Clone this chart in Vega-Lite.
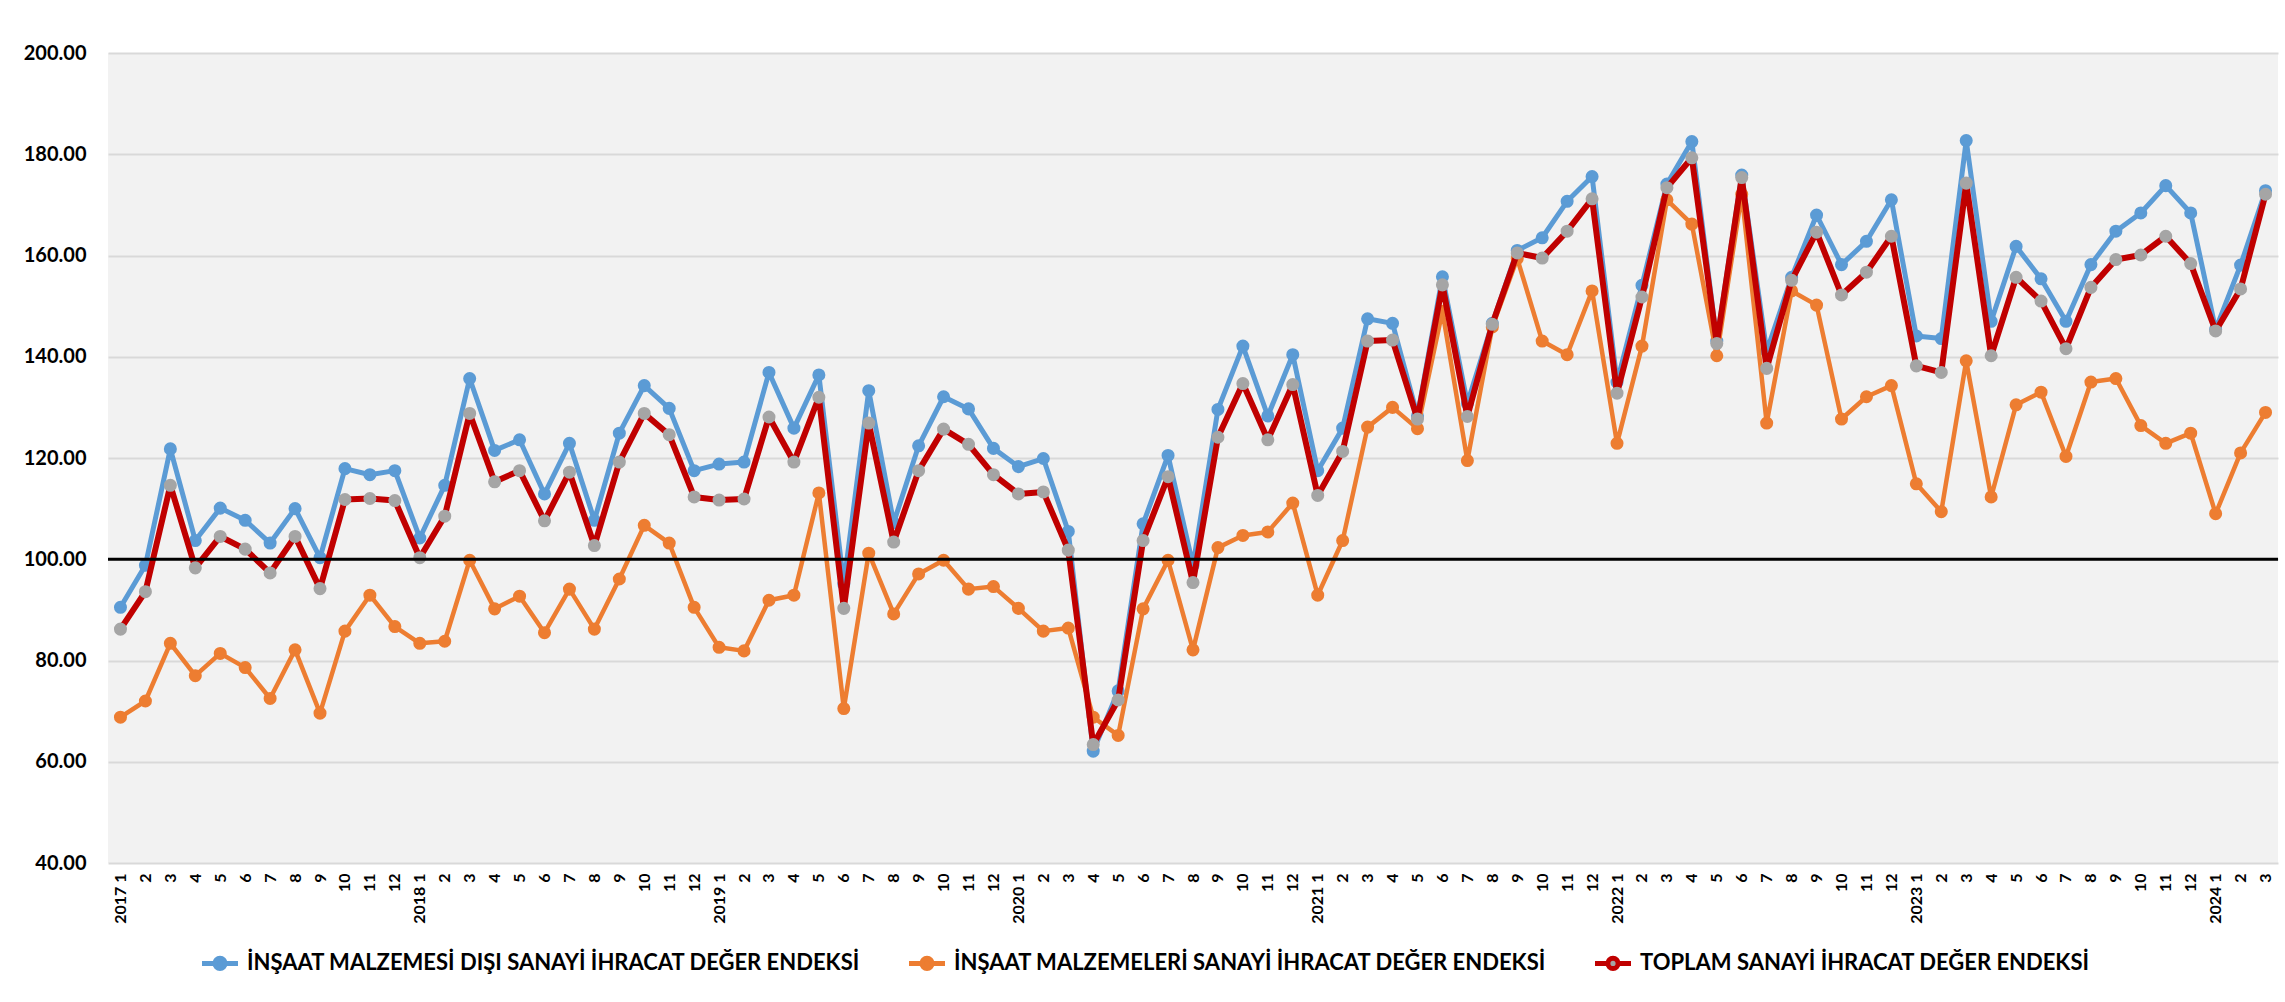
{
  "$schema": "https://vega.github.io/schema/vega-lite/v6.json",
  "width": 2170,
  "height": 810,
  "autosize": {"type": "none"},
  "padding": {"left": 108, "top": 53, "right": 7, "bottom": 139},
  "background": "white",
  "config": {
    "view": {"fill": "#f2f2f2", "stroke": null},
    "font": "Lato",
    "axisX": {"title": null, "labelAngle": 270, "labelFontSize": 16, "labelFontWeight": "bold", "labelColor": "black", "ticks": false, "domain": false, "grid": false, "labelPadding": 10, "labelOverlap": false},
    "axisY": {"title": null, "format": ".2f", "labelFontSize": 20, "labelFontWeight": "bold", "labelColor": "black", "labelPadding": 22, "ticks": false, "domain": false, "grid": true, "gridColor": "#d9d9d9", "gridWidth": 2}
  },
  "datasets": {
    "endeks": [
      {"d": "2017-01", "a": 90.5, "b": 68.8, "t": 86.2},
      {"d": "2017-02", "a": 98.8, "b": 72.0, "t": 93.6},
      {"d": "2017-03", "a": 121.8, "b": 83.4, "t": 114.6},
      {"d": "2017-04", "a": 103.7, "b": 77.0, "t": 98.3},
      {"d": "2017-05", "a": 110.1, "b": 81.4, "t": 104.5},
      {"d": "2017-06", "a": 107.7, "b": 78.6, "t": 102.0},
      {"d": "2017-07", "a": 103.2, "b": 72.5, "t": 97.3},
      {"d": "2017-08", "a": 110.0, "b": 82.1, "t": 104.5},
      {"d": "2017-09", "a": 100.3, "b": 69.6, "t": 94.2},
      {"d": "2017-10", "a": 117.9, "b": 85.8, "t": 111.8},
      {"d": "2017-11", "a": 116.7, "b": 92.9, "t": 112.0},
      {"d": "2017-12", "a": 117.5, "b": 86.7, "t": 111.6},
      {"d": "2018-01", "a": 104.2, "b": 83.4, "t": 100.3},
      {"d": "2018-02", "a": 114.6, "b": 83.8, "t": 108.5},
      {"d": "2018-03", "a": 135.7, "b": 99.8, "t": 128.8},
      {"d": "2018-04", "a": 121.5, "b": 90.2, "t": 115.3},
      {"d": "2018-05", "a": 123.6, "b": 92.7, "t": 117.5},
      {"d": "2018-06", "a": 112.9, "b": 85.5, "t": 107.6},
      {"d": "2018-07", "a": 122.9, "b": 94.1, "t": 117.2},
      {"d": "2018-08", "a": 107.7, "b": 86.2, "t": 102.7},
      {"d": "2018-09", "a": 124.9, "b": 96.1, "t": 119.2},
      {"d": "2018-10", "a": 134.3, "b": 106.7, "t": 128.8},
      {"d": "2018-11", "a": 129.8, "b": 103.2, "t": 124.6},
      {"d": "2018-12", "a": 117.5, "b": 90.5, "t": 112.3},
      {"d": "2019-01", "a": 118.8, "b": 82.6, "t": 111.7},
      {"d": "2019-02", "a": 119.2, "b": 81.9, "t": 111.9},
      {"d": "2019-03", "a": 136.9, "b": 91.9, "t": 128.1},
      {"d": "2019-04", "a": 125.9, "b": 92.9, "t": 119.2},
      {"d": "2019-05", "a": 136.4, "b": 113.1, "t": 132.0},
      {"d": "2019-06", "a": 95.1, "b": 70.5, "t": 90.3},
      {"d": "2019-07", "a": 133.3, "b": 101.2, "t": 126.9},
      {"d": "2019-08", "a": 107.2, "b": 89.2, "t": 103.4},
      {"d": "2019-09", "a": 122.4, "b": 97.1, "t": 117.5},
      {"d": "2019-10", "a": 132.1, "b": 99.8, "t": 125.7},
      {"d": "2019-11", "a": 129.7, "b": 94.1, "t": 122.7},
      {"d": "2019-12", "a": 121.9, "b": 94.6, "t": 116.7},
      {"d": "2020-01", "a": 118.3, "b": 90.3, "t": 112.9},
      {"d": "2020-02", "a": 119.9, "b": 85.8, "t": 113.3},
      {"d": "2020-03", "a": 105.5, "b": 86.4, "t": 101.8},
      {"d": "2020-04", "a": 62.1, "b": 68.8, "t": 63.4},
      {"d": "2020-05", "a": 74.0, "b": 65.2, "t": 72.2},
      {"d": "2020-06", "a": 107.0, "b": 90.2, "t": 103.7},
      {"d": "2020-07", "a": 120.5, "b": 99.8, "t": 116.3},
      {"d": "2020-08", "a": 98.8, "b": 82.1, "t": 95.4},
      {"d": "2020-09", "a": 129.6, "b": 102.3, "t": 124.1},
      {"d": "2020-10", "a": 142.1, "b": 104.7, "t": 134.7},
      {"d": "2020-11", "a": 128.3, "b": 105.4, "t": 123.6},
      {"d": "2020-12", "a": 140.4, "b": 111.1, "t": 134.5},
      {"d": "2021-01", "a": 117.5, "b": 92.9, "t": 112.6},
      {"d": "2021-02", "a": 125.9, "b": 103.7, "t": 121.3},
      {"d": "2021-03", "a": 147.5, "b": 126.1, "t": 143.1},
      {"d": "2021-04", "a": 146.6, "b": 130.0, "t": 143.3},
      {"d": "2021-05", "a": 128.3, "b": 125.8, "t": 127.7},
      {"d": "2021-06", "a": 155.8, "b": 149.0, "t": 154.2},
      {"d": "2021-07", "a": 130.8, "b": 119.5, "t": 128.2},
      {"d": "2021-08", "a": 146.6, "b": 145.9, "t": 146.4},
      {"d": "2021-09", "a": 161.0, "b": 159.4, "t": 160.5},
      {"d": "2021-10", "a": 163.5, "b": 143.1, "t": 159.5},
      {"d": "2021-11", "a": 170.7, "b": 140.4, "t": 164.8},
      {"d": "2021-12", "a": 175.6, "b": 153.0, "t": 171.2},
      {"d": "2022-01", "a": 135.0, "b": 122.9, "t": 132.8},
      {"d": "2022-02", "a": 154.1, "b": 142.1, "t": 151.8},
      {"d": "2022-03", "a": 174.1, "b": 171.0, "t": 173.4},
      {"d": "2022-04", "a": 182.5, "b": 166.2, "t": 179.3},
      {"d": "2022-05", "a": 143.1, "b": 140.2, "t": 142.6},
      {"d": "2022-06", "a": 175.9, "b": 172.1, "t": 175.4},
      {"d": "2022-07", "a": 141.1, "b": 126.9, "t": 137.7},
      {"d": "2022-08", "a": 155.7, "b": 153.0, "t": 155.1},
      {"d": "2022-09", "a": 168.0, "b": 150.2, "t": 164.6},
      {"d": "2022-10", "a": 158.2, "b": 127.7, "t": 152.2},
      {"d": "2022-11", "a": 162.8, "b": 132.1, "t": 156.7},
      {"d": "2022-12", "a": 171.0, "b": 134.3, "t": 163.8},
      {"d": "2023-01", "a": 144.1, "b": 114.9, "t": 138.2},
      {"d": "2023-02", "a": 143.6, "b": 109.4, "t": 136.9},
      {"d": "2023-03", "a": 182.7, "b": 139.2, "t": 174.3},
      {"d": "2023-04", "a": 147.0, "b": 112.3, "t": 140.2},
      {"d": "2023-05", "a": 161.8, "b": 130.5, "t": 155.7},
      {"d": "2023-06", "a": 155.4, "b": 133.0, "t": 151.0},
      {"d": "2023-07", "a": 147.0, "b": 120.3, "t": 141.6},
      {"d": "2023-08", "a": 158.2, "b": 135.0, "t": 153.7},
      {"d": "2023-09", "a": 164.8, "b": 135.7, "t": 159.2},
      {"d": "2023-10", "a": 168.4, "b": 126.4, "t": 160.1},
      {"d": "2023-11", "a": 173.8, "b": 122.9, "t": 163.8},
      {"d": "2023-12", "a": 168.4, "b": 124.9, "t": 158.4},
      {"d": "2024-01", "a": 145.4, "b": 109.0, "t": 145.1},
      {"d": "2024-02", "a": 158.1, "b": 121.0, "t": 153.4},
      {"d": "2024-03", "a": 172.8, "b": 129.0, "t": 172.1}
    ],
    "esik": [{"deger": 100}]
  },
  "layer": [
    {
      "data": {"name": "endeks"},
      "mark": {"type": "line", "strokeWidth": 5, "strokeJoin": "round", "strokeCap": "round"},
      "encoding": {
        "x": {"field": "d", "type": "ordinal", "sort": null, "scale": {"type": "point", "padding": 0.5},
          "axis": {"labelExpr": "slice(datum.value,5,7)=='01' ? slice(datum.value,0,4)+' 1' : ''+toNumber(slice(datum.value,5,7))"}},
        "y": {"field": "a", "type": "quantitative", "scale": {"domain": [40, 200], "nice": false, "zero": false},
          "axis": {"values": [40, 60, 80, 100, 120, 140, 160, 180, 200]}},
        "stroke": {"datum": "İNŞAAT MALZEMESİ DIŞI SANAYİ İHRACAT DEĞER ENDEKSİ", "type": "nominal",
          "scale": {"domain": ["İNŞAAT MALZEMESİ DIŞI SANAYİ İHRACAT DEĞER ENDEKSİ", "İNŞAAT MALZEMELERİ SANAYİ İHRACAT DEĞER ENDEKSİ", "TOPLAM SANAYİ İHRACAT DEĞER ENDEKSİ"], "range": ["#5b9bd5", "#ed7d31", "#c00000"]},
          "legend": {"title": null, "orient": "none", "legendX": 101, "legendY": 899, "direction": "horizontal", "columns": 3, "columnPadding": 38, "padding": 0,
            "symbolType": "M-3,0L-0.85,0M0.85,0L3,0M0.85,0A0.85,0.85,0,1,1,-0.85,0A0.85,0.85,0,1,1,0.85,0Z",
            "symbolSize": 144, "symbolStrokeWidth": 5, "labelFontSize": 22, "labelFontWeight": "bold", "labelColor": "black", "labelOffset": 16, "labelLimit": 2000,
            "encode": {"symbols": {"update": {"fill": {"scale": "fill", "field": "value"}, "stroke": {"scale": "stroke", "field": "value"}, "strokeWidth": {"value": 5}, "opacity": {"value": 1}}}}}}
      }
    },
    {
      "data": {"name": "endeks"},
      "mark": {"type": "point", "shape": "circle", "filled": true, "size": 170, "opacity": 1, "strokeWidth": 0},
      "encoding": {
        "x": {"field": "d", "type": "ordinal", "sort": null},
        "y": {"field": "a", "type": "quantitative"},
        "fill": {"datum": "İNŞAAT MALZEMESİ DIŞI SANAYİ İHRACAT DEĞER ENDEKSİ", "type": "nominal",
          "scale": {"domain": ["İNŞAAT MALZEMESİ DIŞI SANAYİ İHRACAT DEĞER ENDEKSİ", "İNŞAAT MALZEMELERİ SANAYİ İHRACAT DEĞER ENDEKSİ", "TOPLAM SANAYİ İHRACAT DEĞER ENDEKSİ"], "range": ["#5b9bd5", "#ed7d31", "#a5a5a5"]},
          "legend": null}
      }
    },
    {
      "data": {"name": "endeks"},
      "mark": {"type": "line", "strokeWidth": 4.5, "strokeJoin": "round", "strokeCap": "round"},
      "encoding": {
        "x": {"field": "d", "type": "ordinal", "sort": null},
        "y": {"field": "b", "type": "quantitative"},
        "stroke": {"datum": "İNŞAAT MALZEMELERİ SANAYİ İHRACAT DEĞER ENDEKSİ", "type": "nominal"}
      }
    },
    {
      "data": {"name": "endeks"},
      "mark": {"type": "point", "shape": "circle", "filled": true, "size": 170, "opacity": 1, "strokeWidth": 0},
      "encoding": {
        "x": {"field": "d", "type": "ordinal", "sort": null},
        "y": {"field": "b", "type": "quantitative"},
        "fill": {"datum": "İNŞAAT MALZEMELERİ SANAYİ İHRACAT DEĞER ENDEKSİ", "type": "nominal", "legend": null}
      }
    },
    {
      "data": {"name": "endeks"},
      "mark": {"type": "line", "strokeWidth": 6, "strokeJoin": "round", "strokeCap": "round"},
      "encoding": {
        "x": {"field": "d", "type": "ordinal", "sort": null},
        "y": {"field": "t", "type": "quantitative"},
        "stroke": {"datum": "TOPLAM SANAYİ İHRACAT DEĞER ENDEKSİ", "type": "nominal"}
      }
    },
    {
      "data": {"name": "endeks"},
      "mark": {"type": "point", "shape": "circle", "filled": true, "size": 170, "opacity": 1, "strokeWidth": 0},
      "encoding": {
        "x": {"field": "d", "type": "ordinal", "sort": null},
        "y": {"field": "t", "type": "quantitative"},
        "fill": {"datum": "TOPLAM SANAYİ İHRACAT DEĞER ENDEKSİ", "type": "nominal", "legend": null}
      }
    },
    {
      "data": {"name": "esik"},
      "mark": {"type": "rule", "color": "black", "strokeWidth": 3},
      "encoding": {
        "y": {"field": "deger", "type": "quantitative"}
      }
    }
  ]
}
